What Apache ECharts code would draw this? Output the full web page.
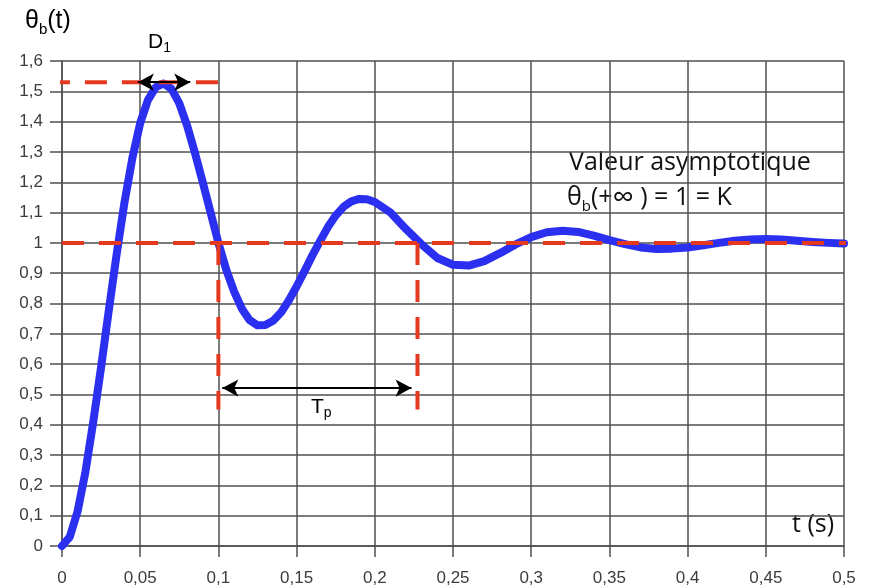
<!DOCTYPE html>
<html>
<head>
<meta charset="utf-8">
<script src="https://cdn.jsdelivr.net/npm/echarts@6/dist/echarts.min.js"></script>
<style>
  html, body { margin: 0; padding: 0; background: #fff; }
  #chart { width: 870px; height: 588px; }
</style>
</head>
<body>
<div id="chart"></div>
<script>
// step response (t in s, theta_b)
const tValues = [
  0, 0.005, 0.01, 0.015, 0.02, 0.025, 0.03, 0.035, 0.04, 0.045,
  0.05, 0.055, 0.06, 0.065, 0.07, 0.075, 0.08, 0.085, 0.09, 0.095,
  0.1, 0.105, 0.11, 0.115, 0.12, 0.125, 0.13, 0.135, 0.14, 0.145,
  0.15, 0.155, 0.16, 0.165, 0.17, 0.175, 0.18, 0.185, 0.19, 0.195,
  0.2, 0.21, 0.22, 0.23, 0.24, 0.25, 0.26, 0.27, 0.28, 0.29,
  0.3, 0.31, 0.32, 0.33, 0.34, 0.35, 0.36, 0.37, 0.38, 0.39,
  0.4, 0.41, 0.42, 0.43, 0.44, 0.45, 0.46, 0.47, 0.48, 0.49, 0.5
]
const thetaValues = [
  0, 0.03, 0.115, 0.245, 0.41, 0.59, 0.78, 0.965, 1.135, 1.28,
  1.395, 1.472, 1.514, 1.526, 1.508, 1.46, 1.387, 1.297, 1.2, 1.1,
  1.0, 0.912, 0.84, 0.783, 0.745, 0.728, 0.729, 0.743, 0.77, 0.81,
  0.856, 0.906, 0.958, 1.006, 1.052, 1.09, 1.119, 1.137, 1.145, 1.144,
  1.135, 1.1, 1.045, 0.995, 0.95, 0.928, 0.925, 0.94, 0.966, 0.995,
  1.019, 1.035, 1.04, 1.036, 1.024, 1.009, 0.996, 0.985, 0.98, 0.981,
  0.985, 0.992, 1.0, 1.007, 1.011, 1.013, 1.011, 1.007, 1.003, 1.0, 0.998
]

// annotation segments [t, theta]
const asymptoteLine = [[0, 1], [0.511, 1]]
const peakLine = [[-0.009, 1.53], [0.1, 1.53]]
const tpStartLine = [[0.1, 1], [0.1, 0.45]]
const tpEndLine = [[0.2273, 1], [0.2273, 0.45]]
const d1Arrow = [[0.0485, 1.53], [0.082, 1.53]]
const tpArrow = [[0.1025, 0.521], [0.2235, 0.521]]

const xTicks = { min: 0, max: 0.5, step: 0.05 }
const yTicks = { min: 0, max: 1.6, step: 0.1 }

const commaLabel = (v) => String(Math.round(v * 100) / 100).replace('.', ',')

const chart = echarts.init(document.getElementById('chart'))

const dashedSeries = (data) => ({
  type: 'line',
  data: data,
  clip: false,
  silent: true,
  showSymbol: false,
  z: 3,
  lineStyle: { color: '#e5391f', width: 4, type: [22, 15] },
})

const arrowSeries = (seg) => ({
  type: 'line',
  data: [],
  z: 4,
  markLine: {
    silent: true,
    symbol: ['arrow', 'arrow'],
    symbolSize: [13, 16],
    label: { show: false },
    lineStyle: { color: '#000', width: 2, type: 'solid' },
    data: [[{ coord: seg[0] }, { coord: seg[1] }]],
  },
})

const gridColor = '#505050'

const option = {
  animation: false,
  backgroundColor: '#fff',
  grid: { left: 62, right: 26, top: 61, bottom: 42 },
  xAxis: {
    type: 'value',
    min: xTicks.min,
    max: xTicks.max,
    interval: xTicks.step,
    axisLine: { show: true, lineStyle: { color: gridColor, width: 1.5 } },
    axisTick: { show: true, length: 11, lineStyle: { color: gridColor, width: 1.5 } },
    axisLabel: {
      margin: 24,
      fontSize: 17,
      fontFamily: 'Liberation Sans, Arial, sans-serif',
      color: '#3c3c3c',
      formatter: commaLabel,
    },
    splitLine: { show: true, lineStyle: { color: gridColor, width: 1.5 } },
  },
  yAxis: {
    type: 'value',
    min: yTicks.min,
    max: yTicks.max,
    interval: yTicks.step,
    axisLine: { show: true, lineStyle: { color: gridColor, width: 1.5 } },
    axisTick: { show: true, length: 12, lineStyle: { color: gridColor, width: 1.5 } },
    axisLabel: {
      margin: 19,
      fontSize: 17,
      fontFamily: 'Liberation Sans, Arial, sans-serif',
      color: '#3c3c3c',
      formatter: commaLabel,
    },
    splitLine: { show: true, lineStyle: { color: gridColor, width: 1.5 } },
  },
  series: [
    {
      type: 'line',
      data: tValues.map((t, i) => [t, thetaValues[i]]),
      smooth: false,
      showSymbol: false,
      silent: true,
      z: 2,
      lineStyle: { color: '#2b2ff0', width: 8, cap: 'round', join: 'round' },
    },
    dashedSeries(asymptoteLine),
    dashedSeries(peakLine),
    dashedSeries(tpStartLine),
    dashedSeries(tpEndLine),
    arrowSeries(d1Arrow),
    arrowSeries(tpArrow),
  ],
  graphic: [
    {
      type: 'text',
      left: 25,
      top: 9,
      style: {
        text: '{a|θ}{s|b}{a|(t)}',
        rich: {
          a: { fontSize: 25, lineHeight: 32, fontFamily: 'Liberation Sans, Arial', fill: '#000' },
          s: { fontSize: 15, lineHeight: 17, verticalAlign: 'bottom', fontFamily: 'Liberation Sans, Arial', fill: '#000' },
        },
      },
    },
    {
      type: 'text',
      left: 148,
      top: 32,
      style: {
        text: '{a|D}{s|1}',
        rich: {
          a: { fontSize: 21, lineHeight: 26, fontFamily: 'Liberation Sans, Arial', fill: '#000' },
          s: { fontSize: 14, lineHeight: 16, verticalAlign: 'bottom', fontFamily: 'Liberation Sans, Arial', fill: '#000' },
        },
      },
    },
    {
      type: 'text',
      left: 311,
      top: 397,
      style: {
        text: '{a|T}{s|p}',
        rich: {
          a: { fontSize: 21, lineHeight: 26, fontFamily: 'Liberation Sans, Arial', fill: '#000' },
          s: { fontSize: 14, lineHeight: 16, verticalAlign: 'bottom', fontFamily: 'Liberation Sans, Arial', fill: '#000' },
        },
      },
    },
    {
      type: 'text',
      left: 569,
      top: 150,
      style: {
        text: 'Valeur asymptotique',
        fontSize: 25,
        fontFamily: 'Open Sans, sans-serif',
        fill: '#111',
      },
    },
    {
      type: 'text',
      left: 567,
      top: 183,
      style: {
        text: '{a|θ}{s|b}{a|(+}{i|∞}{a| ) = 1 = K}',
        rich: {
          a: { fontSize: 25, lineHeight: 32, fontFamily: 'Open Sans, sans-serif', fill: '#111' },
          i: { fontSize: 30, lineHeight: 32, fontFamily: 'Open Sans, sans-serif', fill: '#111' },
          s: { fontSize: 15, lineHeight: 18, verticalAlign: 'bottom', fontFamily: 'Open Sans, sans-serif', fill: '#111' },
        },
      },
    },
    {
      type: 'text',
      left: 792,
      top: 512,
      style: {
        text: 't (s)',
        fontSize: 25,
        fontFamily: 'Open Sans, sans-serif',
        fill: '#111',
      },
    },
  ],
}

chart.setOption(option)
</script>
</body>
</html>
